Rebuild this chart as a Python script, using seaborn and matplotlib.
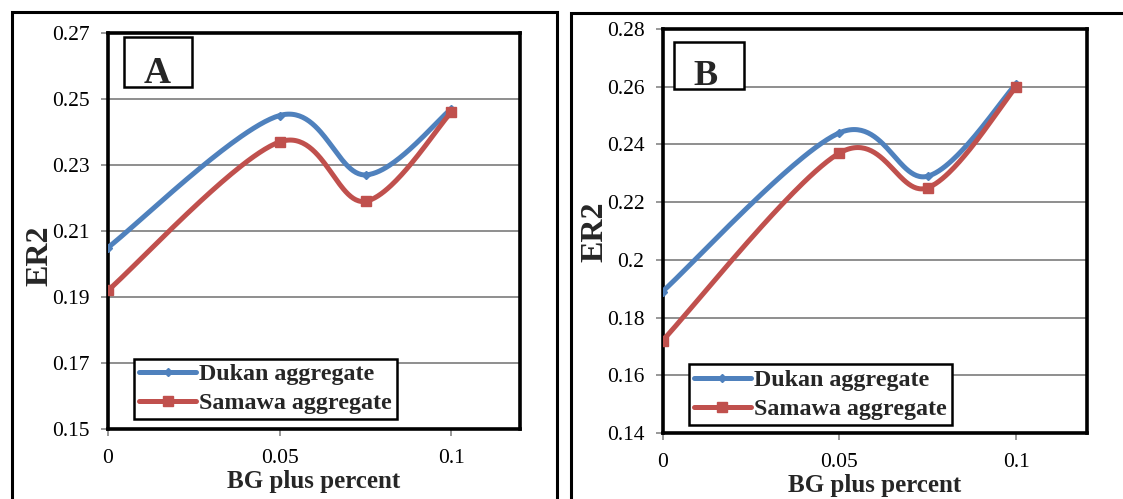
import numpy as np
import pandas as pd
import matplotlib
matplotlib.use("Agg")
import matplotlib.pyplot as plt
from matplotlib.lines import Line2D
from matplotlib.patches import Rectangle
import seaborn as sns

# ---------------- data ----------------
bg_percent = [0.0, 0.05, 0.075, 0.1]
dukan_A = [0.205, 0.245, 0.227, 0.247]
samawa_A = [0.192, 0.237, 0.219, 0.246]
dukan_B = [0.189, 0.244, 0.229, 0.261]
samawa_B = [0.172, 0.237, 0.225, 0.260]
series_names = ["Dukan aggregate", "Samawa aggregate"]
yticks_A = [0.15, 0.17, 0.19, 0.21, 0.23, 0.25, 0.27]
yticks_B = [0.14, 0.16, 0.18, 0.20, 0.22, 0.24, 0.26, 0.28]
ytick_labels_A = ["0.15", "0.17", "0.19", "0.21", "0.23", "0.25", "0.27"]
ytick_labels_B = ["0.14", "0.16", "0.18", "0.2", "0.22", "0.24", "0.26", "0.28"]
xticks = [0.0, 0.05, 0.1]
xtick_labels = ["0", "0.05", "0.1"]
panel_labels = ["A", "B"]

# ---------------- style ----------------
sns.set_theme(style="white")
plt.rcParams["font.family"] = ["Liberation Serif", "DejaVu Serif"]

BLUE = "#4F81BD"
RED = "#C0504D"
GRID = "#868686"


def smooth(x, y, n=60):
    """Excel-like smoothed line (Catmull-Rom Bezier) through the data points."""
    x = np.asarray(x, float)
    y = np.asarray(y, float)
    P = np.column_stack([x, y])
    out = []
    m = len(P)
    for i in range(m - 1):
        p0 = P[i - 1] if i > 0 else P[i]
        p1 = P[i]
        p2 = P[i + 1]
        p3 = P[i + 2] if i + 2 < m else P[i + 1]
        c1 = p1 + (p2 - p0) / 6.0
        c2 = p2 - (p3 - p1) / 6.0
        t = np.linspace(0, 1, n)[:, None]
        seg = ((1 - t) ** 3) * p1 + 3 * ((1 - t) ** 2) * t * c1 + 3 * (1 - t) * t ** 2 * c2 + t ** 3 * p2
        out.append(seg if i == 0 else seg[1:])
    s = np.vstack(out)
    return s[:, 0], s[:, 1]


fig = plt.figure(figsize=(11.23, 4.99), dpi=100)

# outer panel frames (figure coordinates)
W, H = 1123.0, 499.0
fig.patches.append(Rectangle((12 / W, -0.05), (557 - 12) / W, (H - 12) / H + 0.05,
                             transform=fig.transFigure, fill=False, edgecolor="black",
                             linewidth=2.2, zorder=0))
fig.patches.append(Rectangle((571 / W, -0.05), 0.5, (H - 13) / H + 0.05,
                             transform=fig.transFigure, fill=False, edgecolor="black",
                             linewidth=2.2, zorder=0))

panels = [
    dict(rect=[108 / W, (H - 429) / H, 412 / W, 396 / H], d=dukan_A, s=samawa_A,
         ylim=(0.15, 0.27), yt=yticks_A, ytl=ytick_labels_A,
         box=(0.039, 0.864, 0.165, 0.126), leg=(0.063, 0.025), ylab_x=-0.131, ylab_y=0.437,
         letter_dx=-0.003, letter_size=27),
    dict(rect=[662.5 / W, (H - 433) / H, 424.5 / W, 404 / H], d=dukan_B, s=samawa_B,
         ylim=(0.14, 0.28), yt=yticks_B, ytl=ytick_labels_B,
         box=(0.027, 0.851, 0.165, 0.118), leg=(0.062, 0.020), ylab_x=-0.124, ylab_y=0.497,
         letter_dx=-0.008, letter_size=26),
]

for k, p in enumerate(panels):
    ax = fig.add_axes(p["rect"])
    ax.set_facecolor("white")
    for name, vals, col, mk, ms in [(series_names[0], p["d"], BLUE, "D", 4.5),
                                    (series_names[1], p["s"], RED, "s", 7.5)]:
        sx, sy = smooth(bg_percent, vals)
        df = pd.DataFrame({"x": sx, "y": sy})
        sns.lineplot(data=df, x="x", y="y", ax=ax, color=col, linewidth=3.6,
                     estimator=None, sort=False, legend=False, zorder=3)
        ax.plot(bg_percent, vals, linestyle="none", marker=mk, markersize=ms,
                color=col, zorder=4)

    ax.set_xlim(0, 0.12)
    ax.set_ylim(*p["ylim"])
    ax.set_yticks(p["yt"])
    ax.set_yticklabels(p["ytl"])
    ax.set_xticks(xticks)
    ax.set_xticklabels(xtick_labels)
    ax.yaxis.grid(True, color=GRID, linewidth=1.3, zorder=0)
    ax.xaxis.grid(False)
    ax.set_axisbelow(True)
    ax.tick_params(axis="both", labelsize=15.5, colors="black", length=5, width=1.2,
                   direction="out", left=True, bottom=True)
    ax.tick_params(axis="x", pad=9.5, color=GRID)
    ax.tick_params(axis="y", pad=8, color=GRID)
    for sp in ax.spines.values():
        sp.set_visible(True)
        sp.set_color("black")
        sp.set_linewidth(2.6)

    ax.set_xlabel("BG plus percent", fontsize=18, fontweight="bold", labelpad=1)
    ax.set_ylabel("ER2", fontsize=23, fontweight="bold")
    ax.yaxis.set_label_coords(p["ylab_x"], p["ylab_y"])

    # panel letter box
    bx, by, bw, bh = p["box"]
    ax.add_patch(Rectangle((bx, by), bw, bh, transform=ax.transAxes, fill=True,
                           facecolor="white", edgecolor="black", linewidth=1.8, zorder=5))
    ax.text(bx + bw / 2 + p["letter_dx"], by + 0.010, panel_labels[k], transform=ax.transAxes,
            ha="center", va="baseline", fontsize=p["letter_size"], fontweight="bold", zorder=6)

    handles = [Line2D([], [], color=BLUE, linewidth=3.6, marker="D", markersize=4.5),
               Line2D([], [], color=RED, linewidth=3.6, marker="s", markersize=7.5)]
    leg = ax.legend(handles, series_names, loc="lower left", bbox_to_anchor=p["leg"],
                    borderaxespad=0, frameon=True, fancybox=False, framealpha=1,
                    edgecolor="black", prop={"size": 17.3, "weight": "bold"},
                    handlelength=2.4, handletextpad=0.12, borderpad=0.2,
                    labelspacing=0.3)
    leg.get_frame().set_linewidth(1.8)
    leg.set_zorder(6)

fig.savefig("out.png", dpi=100)
